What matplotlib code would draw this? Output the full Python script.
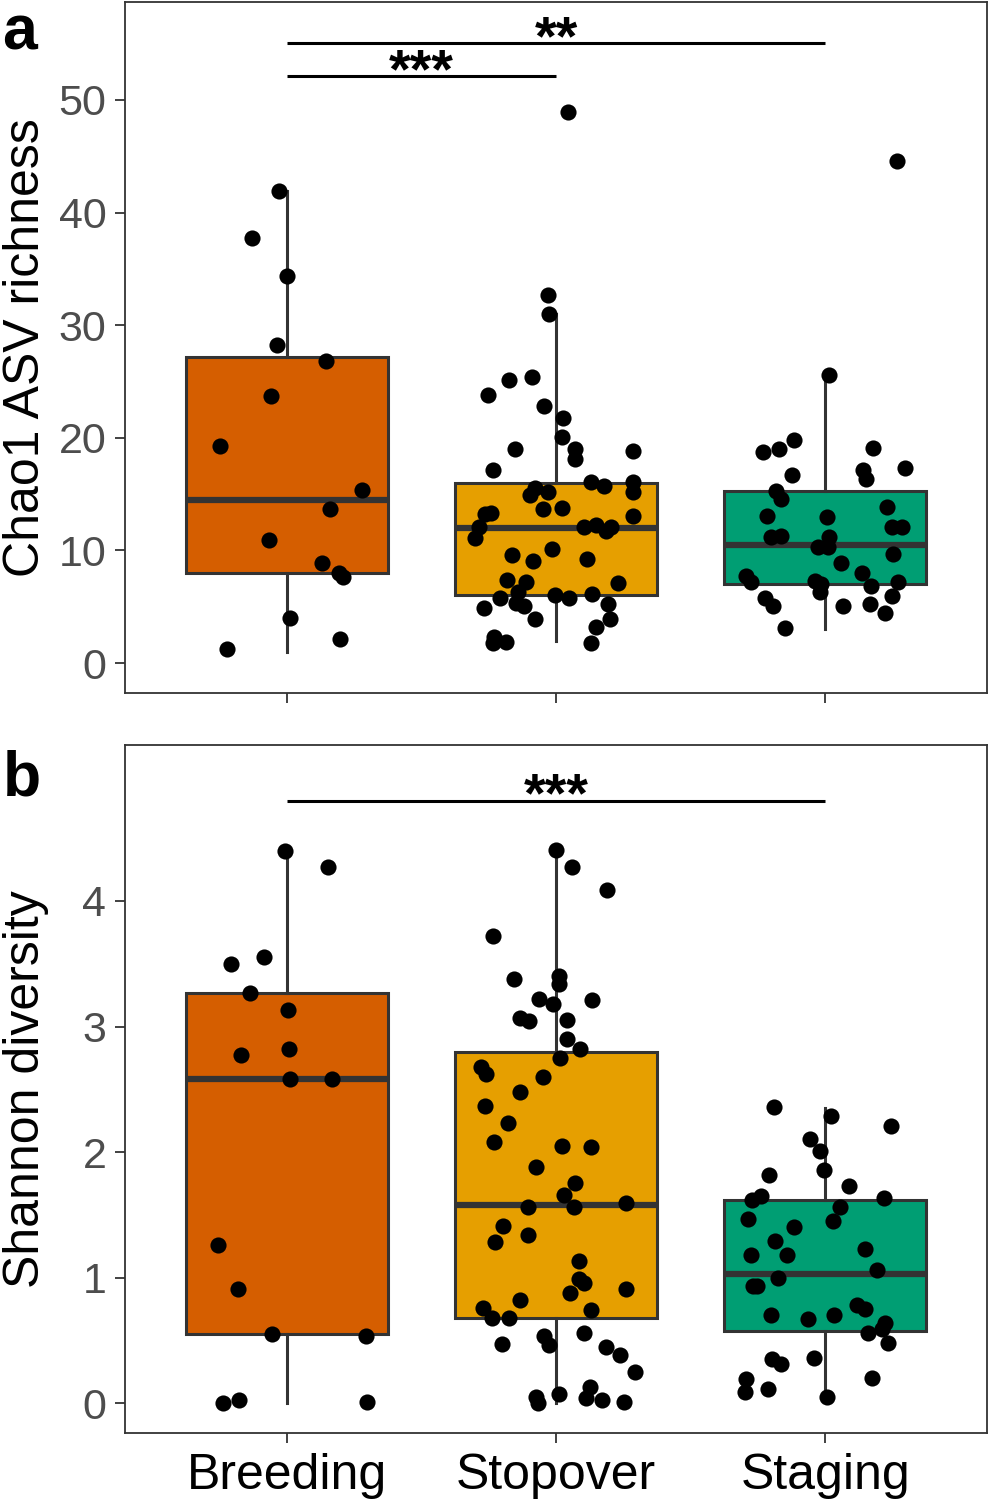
import matplotlib
matplotlib.use("Agg")
import matplotlib.pyplot as plt
import numpy as np

plt.rcParams['font.family'] = ['Liberation Sans', 'DejaVu Sans']

groups = ["Breeding", "Stopover", "Staging"]
colors = ["#D55E00", "#E69F00", "#009E73"]

# --- panel a: Chao1 richness ---
breeding_chao = [41.9, 37.7, 34.4, 28.2, 26.8, 23.7, 19.3, 15.4, 13.7, 10.95, 8.88, 7.96,
                 7.67, 4.03, 2.13, 1.24]
breeding_chao_dx = [-0.03, -0.13, 0.0, -0.035, 0.146, -0.057, -0.249, 0.281, 0.162, -0.067,
                    0.13, 0.195, 0.209, 0.014, 0.197, -0.223]

stopover_chao = [48.9, 32.7, 31.0, 23.8, 25.1, 25.4, 22.8, 21.8, 20.1, 19.0, 18.1, 18.8, 19.0,
                 17.1, 16.1, 15.7, 16.1, 15.2, 13.1, 15.5, 14.9, 15.2, 13.7, 13.8, 13.2, 13.3,
                 12.1, 11.1, 12.1, 12.3, 11.7, 12.1, 9.6, 9.05, 10.1, 9.2, 7.4, 7.2, 6.3, 7.1,
                 5.8, 6.0, 5.8, 6.1, 5.3, 5.1, 4.9, 5.2, 3.9, 3.9, 3.2, 2.3, 1.8, 1.9, 1.8]
stopover_chao_dx = [0.046, -0.029, -0.025, -0.251, -0.173, -0.090, -0.046, 0.025, 0.021, 0.072,
                    0.072, 0.287, -0.152, -0.235, 0.130, 0.178, 0.287, 0.287, 0.287, -0.078,
                    -0.097, -0.029, -0.047, 0.021, -0.264, -0.242, -0.285, -0.301, 0.105, 0.149,
                    0.185, 0.203, -0.162, -0.084, -0.015, 0.116, -0.181, -0.112, -0.141, 0.230,
                    -0.208, -0.004, 0.050, 0.135, -0.150, -0.119, -0.267, 0.192, -0.078, 0.201,
                    0.149, -0.230, -0.234, -0.187, 0.131]

staging_chao = [44.6, 25.6, 18.7, 19.0, 19.8, 19.1, 16.7, 17.1, 16.3, 17.3, 15.3, 14.6, 13.9,
                13.05, 13.0, 12.1, 12.1, 11.2, 11.3, 11.2, 10.3, 10.3, 9.7, 8.85, 7.7, 7.2,
                7.97, 7.3, 7.0, 6.3, 6.8, 7.2, 5.8, 5.1, 5.1, 5.2, 5.95, 4.4, 3.1]
staging_chao_dx = [0.266, 0.014, -0.233, -0.172, -0.115, 0.178, -0.125, 0.140, 0.150, 0.296,
                   -0.183, -0.165, 0.228, -0.217, 0.005, 0.247, 0.284, -0.203, -0.165, 0.012,
                   -0.029, 0.010, 0.250, 0.059, -0.296, -0.276, 0.136, -0.040, -0.015, -0.019,
                   0.171, 0.269, -0.223, -0.196, 0.066, 0.164, 0.247, 0.222, -0.151]

# box stats: whisker low, q1, median, q3, whisker high
chao_box = [(1.0, 7.96, 14.5, 27.2, 41.9),
            (2.0, 6.0, 12.0, 16.0, 31.0),
            (3.0, 7.0, 10.5, 15.3, 25.6)]
chao_sig = [(1, 3, "**", 55.05), (1, 2, "***", 52.1)]

# --- panel b: Shannon diversity ---
breeding_shannon = [4.395, 4.27, 3.50, 3.55, 3.27, 3.13, 2.77, 2.82, 2.58, 2.58, 1.26, 0.91,
                    0.55, 0.53, 0.0, 0.02, 0.01]
breeding_shannon_dx = [-0.007, 0.152, -0.208, -0.084, -0.135, 0.006, -0.171, 0.010, 0.011,
                       0.170, -0.255, -0.182, -0.056, 0.296, -0.235, -0.177, 0.297]

stopover_shannon = [4.41, 4.27, 4.09, 3.72, 3.38, 3.40, 3.34, 3.22, 3.18, 3.21, 3.07, 3.04,
                    3.05, 2.90, 2.82, 2.75, 2.68, 2.62, 2.60, 2.48, 2.37, 2.23, 2.08, 2.05,
                    2.04, 1.88, 1.75, 1.66, 1.56, 1.56, 1.59, 1.41, 1.28, 1.34, 1.13, 0.99,
                    0.96, 0.88, 0.91, 0.82, 0.76, 0.68, 0.68, 0.74, 0.56, 0.53, 0.46, 0.47,
                    0.45, 0.38, 0.25, 0.13, 0.07, 0.05, 0.0, 0.04, 0.02, 0.01]
stopover_shannon_dx = [0.0, 0.061, 0.190, -0.233, -0.155, 0.010, 0.012, -0.063, -0.010, 0.134,
                       -0.132, -0.099, 0.041, 0.042, 0.088, 0.015, -0.279, -0.260, -0.048,
                       -0.132, -0.263, -0.178, -0.231, 0.022, 0.130, -0.073, 0.072, 0.029,
                       -0.103, 0.066, 0.260, -0.198, -0.227, -0.105, 0.084, 0.086, 0.103,
                       0.051, 0.260, -0.134, -0.270, -0.239, -0.174, 0.130, 0.105, -0.045,
                       -0.025, -0.201, 0.185, 0.237, 0.294, 0.125, 0.010, -0.075, -0.068,
                       0.110, 0.171, 0.251]

staging_shannon = [2.36, 2.29, 2.21, 2.10, 2.01, 1.86, 1.82, 1.73, 1.65, 1.62, 1.63, 1.56,
                   1.45, 1.47, 1.40, 1.29, 1.18, 1.18, 1.23, 1.06, 1.00, 0.93, 0.93, 0.78,
                   0.75, 0.70, 0.67, 0.70, 0.64, 0.59, 0.56, 0.48, 0.35, 0.31, 0.36, 0.20,
                   0.19, 0.09, 0.11, 0.05]
staging_shannon_dx = [-0.190, 0.021, 0.243, -0.056, -0.021, -0.005, -0.209, 0.088, -0.239,
                      -0.274, 0.219, 0.053, 0.027, -0.286, -0.116, -0.188, -0.277, -0.144,
                      0.146, 0.193, -0.177, -0.267, -0.254, 0.118, 0.146, -0.201, -0.063,
                      0.033, 0.223, 0.211, 0.159, 0.234, -0.198, -0.165, -0.042, 0.172,
                      -0.293, -0.299, -0.213, 0.005]

shannon_box = [(0.0, 0.55, 2.58, 3.27, 4.39),
               (0.0, 0.68, 1.58, 2.80, 4.41),
               (0.05, 0.57, 1.03, 1.62, 2.35)]
shannon_sig = [(1, 3, "***", 4.80)]

EDGE = '#333333'


def draw_panel(ax, values, jitter, boxes, sig, ylabel, ylim, yticks):
    stats = [dict(whislo=b[0], q1=b[1], med=b[2], q3=b[3], whishi=b[4], fliers=[])
             for b in boxes]
    bp = ax.bxp(stats, positions=[1, 2, 3], widths=0.75, patch_artist=True,
                showcaps=False, showfliers=False,
                boxprops=dict(edgecolor=EDGE, linewidth=2.2),
                whiskerprops=dict(color=EDGE, linewidth=2.2),
                medianprops=dict(color=EDGE, linewidth=4.5, solid_capstyle='butt'))
    for patch, c in zip(bp['boxes'], colors):
        patch.set_facecolor(c)

    for i, (v, dx) in enumerate(zip(values, jitter)):
        ax.scatter(i + 1 + np.array(dx), v, s=135, color='black', linewidths=0, zorder=3)

    for x1, x2, label, y in sig:
        ax.plot([x1, x2], [y, y], color='black', lw=2.2, solid_capstyle='butt', clip_on=False)
        ax.annotate(label, xy=((x1 + x2) / 2, y), xytext=(0, -8), textcoords='offset points',
                    ha='center', va='baseline', fontsize=40, fontweight='bold', color='black')

    ax.set_xlim(0.4, 3.6)
    ax.set_ylim(*ylim)
    ax.set_xticks([1, 2, 3])
    ax.set_yticks(yticks)
    ax.set_ylabel(ylabel, fontsize=36, color='black')
    ax.yaxis.set_label_coords(-0.088, 0.5)
    for s in ax.spines.values():
        s.set_color(EDGE)
        s.set_linewidth(1.3)
    ax.tick_params(axis='both', length=7, width=1.3, color=EDGE)
    ax.tick_params(axis='y', labelsize=31, labelcolor='#4D4D4D', pad=6.5)


fig = plt.figure(figsize=(9.88, 15), dpi=100)
ax_a = fig.add_axes([125 / 988, 1 - 693 / 1500, 862 / 988, 691 / 1500])
ax_b = fig.add_axes([125 / 988, 1 - 1433 / 1500, 862 / 988, 688 / 1500])

draw_panel(ax_a,
           [breeding_chao, stopover_chao, staging_chao],
           [breeding_chao_dx, stopover_chao_dx, staging_chao_dx],
           chao_box, chao_sig, "Chao1 ASV richness", (-2.66, 58.7), [0, 10, 20, 30, 40, 50])
ax_a.tick_params(axis='x', labelbottom=False)

draw_panel(ax_b,
           [breeding_shannon, stopover_shannon, staging_shannon],
           [breeding_shannon_dx, stopover_shannon_dx, staging_shannon_dx],
           shannon_box, shannon_sig, "Shannon diversity", (-0.239, 5.243), [0, 1, 2, 3, 4])
ax_b.set_xticklabels(groups)
ax_b.tick_params(axis='x', labelsize=36, labelcolor='black', pad=7.5)

fig.text(2 / 988, 1 - 50 / 1500, "a", fontsize=45, fontweight='bold', va='baseline')
fig.text(3 / 988, 1 - 795 / 1500, "b", fontsize=45, fontweight='bold', va='baseline')

fig.savefig("out.png", dpi=100)
